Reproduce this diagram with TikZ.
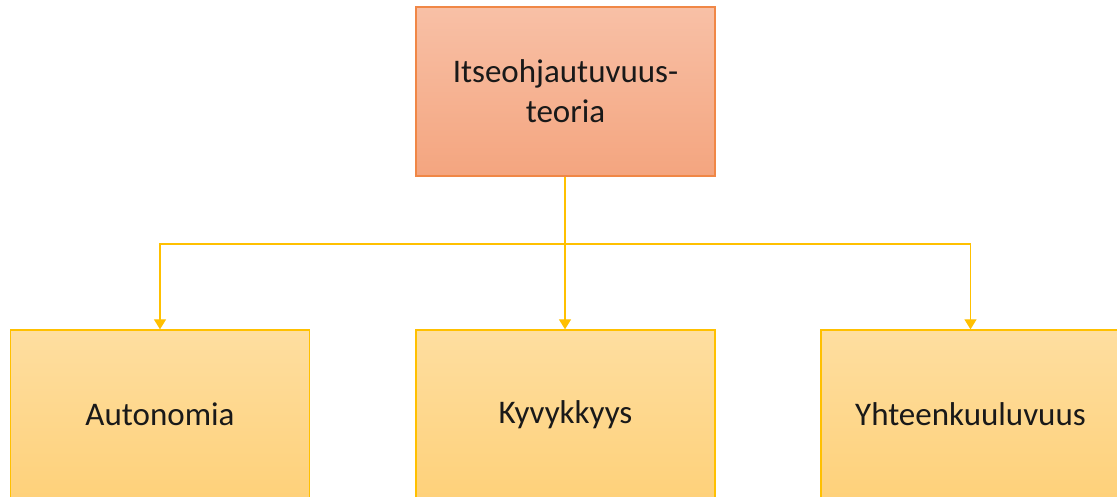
\documentclass[tikz,border=0pt]{standalone}
\usepackage{fontspec}
\setmainfont{Carlito}
\usetikzlibrary{arrows.meta}
\definecolor{topA}{RGB}{248,192,166}
\definecolor{topB}{RGB}{244,165,127}
\definecolor{topLine}{RGB}{240,135,70}
\definecolor{botA}{RGB}{254,222,160}
\definecolor{botB}{RGB}{254,209,122}
\definecolor{botLine}{RGB}{255,192,0}
\tikzset{
  boxbase/.style={rectangle, minimum width=299pt, minimum height=169pt, inner sep=0pt,
    line width=1.3pt, font=\fontsize{33}{40}\selectfont, align=center, text=black!90},
  topbox/.style={boxbase, draw=topLine, top color=topA, bottom color=topB},
  botbox/.style={boxbase, draw=botLine, top color=botA, bottom color=botB},
  conn/.style={draw=botLine, line width=1.3pt, -{Triangle[width=12pt,length=10pt]}}
}
\begin{document}
\begin{tikzpicture}[x=1pt,y=1pt]
\useasboundingbox (0,0) rectangle (1117,497);
\clip (0,0) rectangle (1117,497);
\node[topbox] (top) at (565.5,405.5) {Itseohjautuvuus-\\teoria};
\node[botbox] (left) at (160,82.5) {Autonomia};
\node[botbox] (mid) at (565.5,82.5) {Kyvykkyys};
\node[botbox] (right) at (970.5,82.5) {Yhteenkuuluvuus};
\coordinate (bus) at (565,253);
\draw[conn] (top.south -| bus) -- (mid.north -| bus);
\draw[conn] (bus) -| (left.north);
\draw[conn] (bus) -| (right.north);
\end{tikzpicture}
\end{document}
